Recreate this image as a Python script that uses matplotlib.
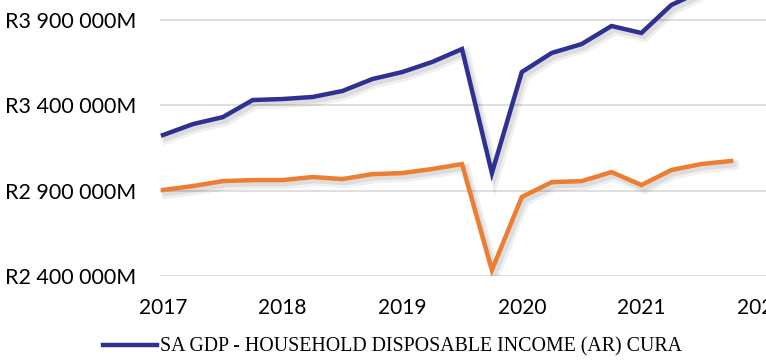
import matplotlib
matplotlib.use('Agg')
import matplotlib.pyplot as plt
import matplotlib.patheffects as pe
from matplotlib.lines import Line2D

# quarterly points, 2017 Q1 onwards
quarters = [2017 + i / 4 for i in range(20)]

# R million
disposable_income = [3226000, 3290000, 3331000, 3431000, 3437000,
                     3449000, 3484000, 3554000, 3595000, 3654000,
                     3730000, 3003000, 3595000, 3707000, 3759000,
                     3865000, 3824000, 3988000, 4070000, 4120000]
consumption = [2904000, 2927000, 2956000, 2962000, 2962000,
               2980000, 2968000, 2997000, 3003000, 3027000,
               3056000, 2435000, 2863000, 2950000, 2956000,
               3009000, 2933000, 3021000, 3056000, 3074000]

y_ticks = [2400000, 2900000, 3400000, 3900000]
y_labels = ['R2 400 000M', 'R2 900 000M', 'R3 400 000M', 'R3 900 000M']
x_ticks = [2017, 2018, 2019, 2020, 2021, 2022]

legend_label = 'SA GDP - HOUSEHOLD DISPOSABLE INCOME (AR) CURA'

BLUE = '#2e3192'
ORANGE = '#ed7d31'


def main():
    fig = plt.figure(figsize=(7.66, 3.60), dpi=100)
    ax = fig.add_axes([160 / 766, 84 / 360, 606 / 766, 276 / 360])

    # soft drop shadow like the excel one
    shadow = [pe.SimpleLineShadow(offset=(2.5, -3), shadow_color='#000000',
                                  alpha=0.06, linewidth=7),
              pe.SimpleLineShadow(offset=(2, -2.5), shadow_color='#000000',
                                  alpha=0.08, linewidth=4),
              pe.Normal()]

    ax.plot(quarters, disposable_income, color=BLUE, lw=3.2,
            solid_joinstyle='miter', path_effects=shadow, zorder=3)
    ax.plot(quarters, consumption, color=ORANGE, lw=3.2,
            solid_joinstyle='miter', path_effects=shadow, zorder=3)

    ax.set_xlim(2017 - 3 / 119.6, 2017 + 603 / 119.6)
    ax.set_ylim(2400000, 3900000 + 20 * 5861)

    ax.set_yticks(y_ticks)
    ax.set_yticklabels(y_labels, fontfamily='Lato', fontsize=15.5)
    ax.set_xticks(x_ticks)
    ax.set_xticklabels([str(x) for x in x_ticks], fontfamily='Lato',
                       fontsize=15)
    ax.tick_params(axis='y', length=0, pad=17)
    ax.tick_params(axis='x', length=0, pad=16)

    ax.grid(axis='y', color='#d9d9d9', lw=1.2)
    ax.set_axisbelow(True)
    for s in ax.spines.values():
        s.set_visible(False)

    handle = Line2D([], [], color=BLUE, lw=3.2)
    fig.legend(handles=[handle], labels=[legend_label],
               loc='center left', bbox_to_anchor=(103 / 766, 1 - 347 / 360),
               frameon=False, handlelength=2.7, handletextpad=0.15,
               borderaxespad=0, borderpad=0,
               prop={'family': 'Liberation Serif', 'size': 14.3})

    fig.savefig('out.png', dpi=100)


if __name__ == '__main__':
    main()
